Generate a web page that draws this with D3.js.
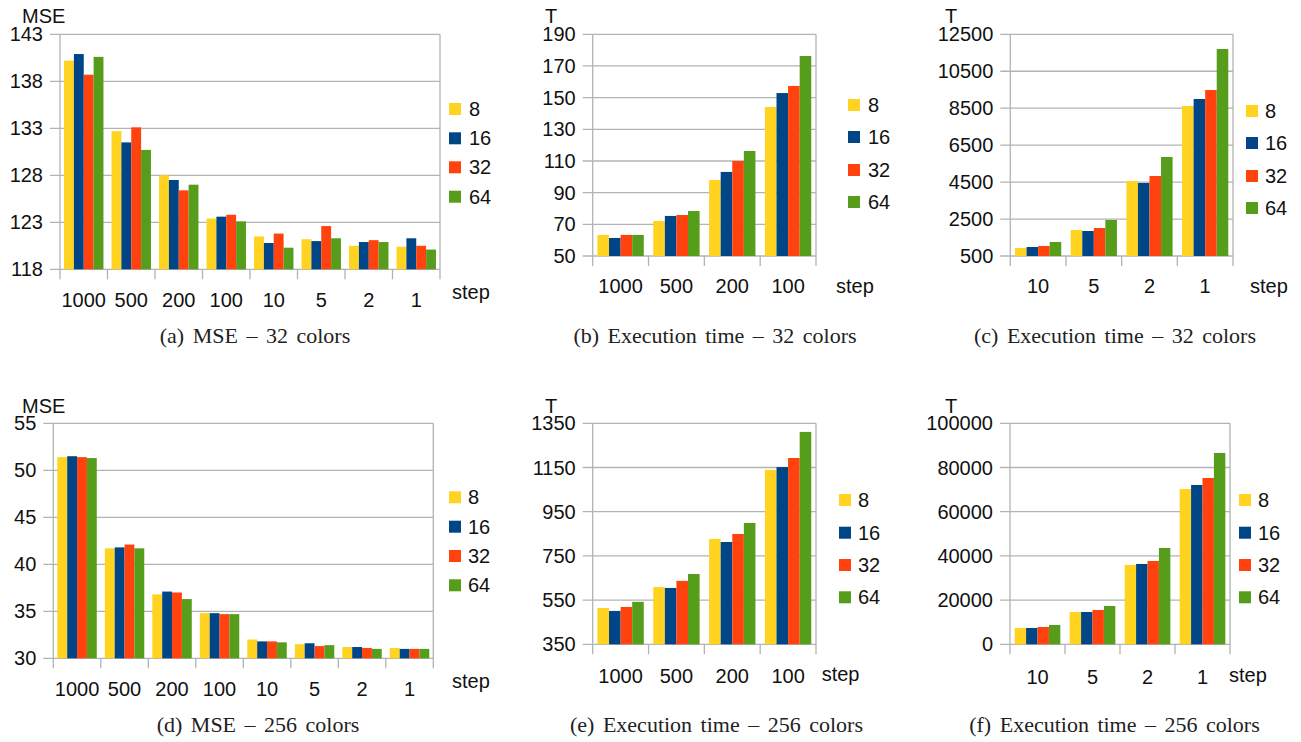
<!DOCTYPE html>
<html>
<head>
<meta charset="utf-8">
<script src="https://cdn.jsdelivr.net/npm/d3@7"></script>
<style>
  html, body { margin: 0; padding: 0; background: #fff; }
  svg { display: block; }
  .tick-label, .cat-label, .legend-label, .axis-title { font-family: "Liberation Sans", Arial, sans-serif; font-size: 20px; fill: #111; }
  .caption { font-family: "Liberation Serif", "Times New Roman", serif; font-size: 22px; fill: #222; word-spacing: 3px; }
</style>
</head>
<body>
<svg id="chart" width="1301" height="742"></svg>
<script>
// Series (palette sizes) shown in every legend
const series = ["8", "16", "32", "64"];
const seriesColors = ["#FFD320", "#004586", "#FF420E", "#579D1C"];

// Step categories
const stepsAll = ["1000", "500", "200", "100", "10", "5", "2", "1"];
const stepsCoarse = ["1000", "500", "200", "100"];
const stepsFine = ["10", "5", "2", "1"];

// MSE, 32 colors: one row per step, values for 8/16/32/64
const mse32 = [
  [140.2, 140.9, 138.7, 140.6],
  [132.7, 131.5, 133.1, 130.7],
  [128.0, 127.5, 126.4, 127.0],
  [123.4, 123.6, 123.8, 123.1],
  [121.5, 120.8, 121.8, 120.3],
  [121.2, 121.0, 122.6, 121.3],
  [120.5, 120.9, 121.1, 120.9],
  [120.4, 121.3, 120.5, 120.1]
];
// Execution time, 32 colors, coarse steps
const time32Coarse = [
  [63.3, 61.4, 63.3, 63.3],
  [72.1, 75.3, 75.9, 78.4],
  [98.0, 103.1, 110.0, 116.3],
  [144.1, 152.9, 157.4, 176.3]
];
// Execution time, 32 colors, fine steps
const time32Fine = [
  [933, 987, 1041, 1258],
  [1907, 1853, 2016, 2449],
  [4560, 4452, 4831, 5859],
  [8620, 8999, 9486, 11705]
];
// MSE, 256 colors
const mse256 = [
  [51.4, 51.5, 51.4, 51.3],
  [41.7, 41.8, 42.1, 41.7],
  [36.8, 37.1, 37.0, 36.3],
  [34.8, 34.8, 34.7, 34.7],
  [32.0, 31.8, 31.8, 31.7],
  [31.5, 31.6, 31.3, 31.4],
  [31.2, 31.2, 31.1, 31.0],
  [31.1, 31.0, 31.0, 31.0]
];
// Execution time, 256 colors, coarse steps
const time256Coarse = [
  [514, 501, 519, 542],
  [609, 605, 637, 668],
  [827, 813, 849, 899],
  [1139, 1152, 1193, 1311]
];
// Execution time, 256 colors, fine steps
const time256Fine = [
  [7390, 7390, 7843, 8748],
  [14630, 14630, 15535, 17345],
  [35897, 36350, 37707, 43590],
  [70286, 72097, 75264, 86576]
];

// Y tick values
const ticksMse32 = [118, 123, 128, 133, 138, 143];
const ticksTime32Coarse = [50, 70, 90, 110, 130, 150, 170, 190];
const ticksTime32Fine = [500, 2500, 4500, 6500, 8500, 10500, 12500];
const ticksMse256 = [30, 35, 40, 45, 50, 55];
const ticksTime256Coarse = [350, 550, 750, 950, 1150, 1350];
const ticksTime256Fine = [0, 20000, 40000, 60000, 80000, 100000];

// Axis titles and captions
const yTitles = ["MSE", "T", "T", "MSE", "T", "T"];
const xTitle = "step";
const captions = [
  "(a) MSE – 32 colors",
  "(b) Execution time – 32 colors",
  "(c) Execution time – 32 colors",
  "(d) MSE – 256 colors",
  "(e) Execution time – 256 colors",
  "(f) Execution time – 256 colors"
];

const svg = d3.select("#chart");
const gridColor = "#b3b3b3";

function drawPanel(p) {
  const g = svg.append("g");
  const y = d3.scaleLinear().domain([p.ticks[0], p.ticks[p.ticks.length - 1]]).range([p.y1, p.y0]);
  const x = d3.scaleBand().domain(p.cats).range([p.x0, p.x1]).paddingInner(0.17).paddingOuter(0.085);
  const xs = d3.scaleBand().domain(series).range([0, x.bandwidth()]);
  const step = (p.x1 - p.x0) / p.cats.length;

  // horizontal gridlines with left tick stubs
  g.selectAll("line.grid").data(p.ticks).join("line")
    .attr("x1", p.x0 - 10).attr("x2", p.x1)
    .attr("y1", d => y(d)).attr("y2", d => y(d))
    .attr("stroke", gridColor).attr("stroke-width", 1.3);

  // y axis tick labels
  g.selectAll("text.tick-label").data(p.ticks).join("text")
    .attr("class", "tick-label")
    .attr("x", p.x0 - 17).attr("y", d => y(d))
    .attr("text-anchor", "end").attr("dominant-baseline", "central")
    .text(d => d);

  // category boundaries (axis line, right border, tick stubs)
  const bounds = d3.range(p.cats.length + 1).map(i => p.x0 + i * step);
  g.selectAll("line.bound").data(bounds).join("line")
    .attr("x1", d => d).attr("x2", d => d)
    .attr("y1", (d, i) => (i === 0 || i === p.cats.length) ? p.y0 : p.y1)
    .attr("y2", p.y1 + 10)
    .attr("stroke", gridColor).attr("stroke-width", 1.3);

  // bars
  const groups = g.selectAll("g.cat").data(p.values).join("g")
    .attr("transform", (d, i) => `translate(${x(p.cats[i])},0)`);
  groups.selectAll("rect").data(d => d.map((v, j) => ({ v, s: series[j], c: seriesColors[j] }))).join("rect")
    .attr("x", d => xs(d.s))
    .attr("width", xs.bandwidth())
    .attr("y", d => y(d.v))
    .attr("height", d => y(p.ticks[0]) - y(d.v))
    .attr("fill", d => d.c);

  // category labels
  g.selectAll("text.cat-label").data(p.cats).join("text")
    .attr("class", "cat-label")
    .attr("x", d => x(d) + x.bandwidth() / 2).attr("y", p.catY)
    .attr("text-anchor", "middle").attr("dominant-baseline", "central")
    .text(d => d);

  // axis titles
  g.append("text").attr("class", "axis-title")
    .attr("x", p.titleX).attr("y", p.titleY).attr("dominant-baseline", "central").text(p.title);
  g.append("text").attr("class", "axis-title")
    .attr("x", p.stepX).attr("y", p.stepY).attr("dominant-baseline", "central").text(xTitle);

  // legend
  const lg = g.selectAll("g.legend").data(series).join("g")
    .attr("transform", (d, i) => `translate(${p.legX},${p.legY[i]})`);
  lg.append("rect").attr("x", 0).attr("y", -6).attr("width", 12).attr("height", 12)
    .attr("fill", (d, i) => seriesColors[i]);
  lg.append("text").attr("class", "legend-label")
    .attr("x", p.legTextX - p.legX).attr("y", 0).attr("dominant-baseline", "central")
    .text(d => d);

  // caption
  g.append("text").attr("class", "caption")
    .attr("x", p.capX).attr("y", p.capY).attr("text-anchor", "middle").text(p.caption);
}

const panels = [
  { cats: stepsAll, values: mse32, ticks: ticksMse32, title: yTitles[0], caption: captions[0],
    x0: 60, x1: 440, y0: 34.3, y1: 269.3, catY: 300, titleX: 22, titleY: 16,
    stepX: 452, stepY: 292, legX: 449, legTextX: 469, legY: [109, 138.3, 167.3, 196.7],
    capX: 255, capY: 343 },
  { cats: stepsCoarse, values: time32Coarse, ticks: ticksTime32Coarse, title: yTitles[1], caption: captions[1],
    x0: 592.7, x1: 816, y0: 34.3, y1: 256, catY: 286, titleX: 545, titleY: 16,
    stepX: 836, stepY: 286, legX: 848, legTextX: 868, legY: [105, 137, 170, 202],
    capX: 715, capY: 343 },
  { cats: stepsFine, values: time32Fine, ticks: ticksTime32Fine, title: yTitles[2], caption: captions[2],
    x0: 1010.3, x1: 1233, y0: 34.3, y1: 256, catY: 286, titleX: 945, titleY: 16,
    stepX: 1250, stepY: 286, legX: 1246, legTextX: 1265, legY: [111, 143, 176, 208],
    capX: 1115, capY: 343 },
  { cats: stepsAll, values: mse256, ticks: ticksMse256, title: yTitles[3], caption: captions[3],
    x0: 53.3, x1: 433.3, y0: 423.3, y1: 658.3, catY: 689, titleX: 22, titleY: 406,
    stepX: 452, stepY: 681, legX: 449, legTextX: 468, legY: [497.3, 526.7, 556, 585.3],
    capX: 258, capY: 732 },
  { cats: stepsCoarse, values: time256Coarse, ticks: ticksTime256Coarse, title: yTitles[4], caption: captions[4],
    x0: 592.7, x1: 816, y0: 423.3, y1: 644.3, catY: 676, titleX: 545, titleY: 406,
    stepX: 821.7, stepY: 674, legX: 839, legTextX: 858, legY: [500, 532.7, 565, 597.3],
    capX: 716.5, capY: 732 },
  { cats: stepsFine, values: time256Fine, ticks: ticksTime256Fine, title: yTitles[5], caption: captions[5],
    x0: 1010, x1: 1230, y0: 423.3, y1: 644.3, catY: 677, titleX: 945, titleY: 406,
    stepX: 1229, stepY: 675, legX: 1239, legTextX: 1258, legY: [500, 532.7, 565, 597.3],
    capX: 1114.5, capY: 732 }
];

panels.forEach(drawPanel);
</script>
</body>
</html>
